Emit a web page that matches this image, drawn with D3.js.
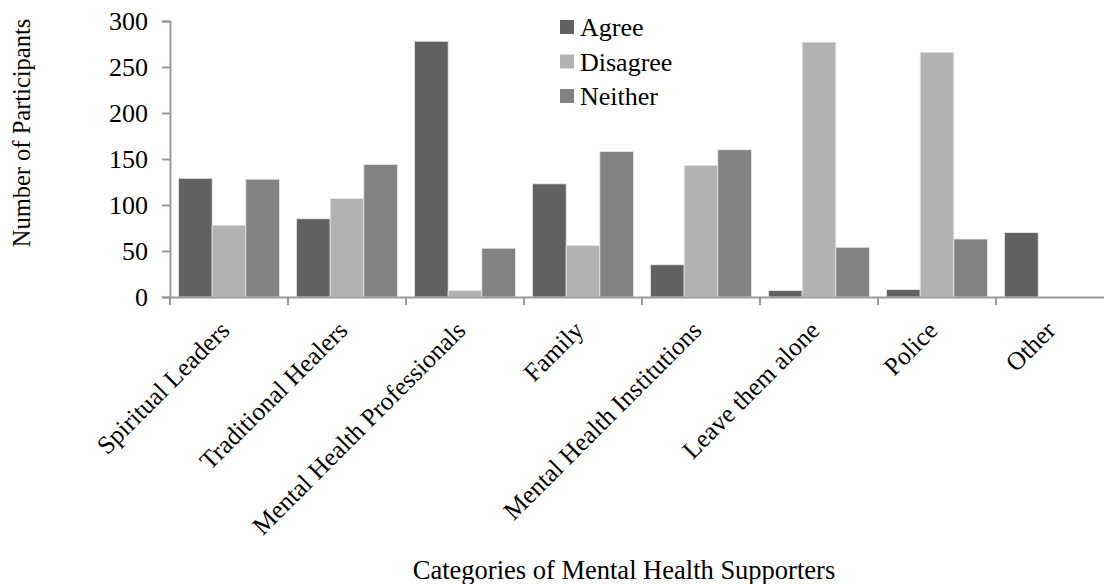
<!DOCTYPE html>
<html><head><meta charset="utf-8">
<script src="https://cdn.jsdelivr.net/npm/d3@7"></script>
<style>body{margin:0;background:#fff}svg{display:block}svg text{font-family:"Liberation Serif","Times New Roman",serif !important;fill:#000}</style>
</head><body><svg id="c" width="1104" height="584"></svg>
<script>
const categories = ["Spiritual Leaders","Traditional Healers","Mental Health Professionals","Family","Mental Health Institutions","Leave them alone","Police","Other"];
const seriesNames = ["Agree","Disagree","Neither"];
const agree    = [129, 85, 278, 123, 35, 7, 8, 70];
const disagree = [78, 107, 7, 56, 143, 277, 266, 0];
const neither  = [128, 144, 53, 158, 160, 54, 63, 0];
const yTicks = [0, 50, 100, 150, 200, 250, 300];
const colors = ["#616161", "#b2b2b2", "#828282"];
const seriesValues = [agree, disagree, neither];

(function(){
const svg = d3.select("#c");
const mLeft = 170, mBottom = 297, mTop = 21, mRight = 1114;
const x = d3.scaleBand().domain(categories).range([mLeft, mRight]).paddingInner(0).paddingOuter(0);
const xs = d3.scaleBand().domain(seriesNames).range([0, x.bandwidth()]).paddingInner(0).paddingOuter(0.2532);
const y = d3.scaleLinear().domain([0, 300]).range([mBottom, mTop]);
const axisColor = "#9a9a9a";

categories.forEach((c, i) => {
  seriesNames.forEach((s, j) => {
    const v = seriesValues[j][i];
    if (v <= 0) return;
    svg.append("rect")
      .attr("x", x(c) + xs(s))
      .attr("y", y(v))
      .attr("width", xs.bandwidth())
      .attr("height", y(0) - y(v))
      .attr("fill", colors[j])
      .attr("stroke", "#e6e6e6").attr("stroke-width", 0.8);
  });
});

const ya = svg.append("g").attr("transform", `translate(${mLeft},0)`)
  .call(d3.axisLeft(y).tickValues(yTicks).tickSize(8).tickPadding(14).tickFormat(d3.format("d")));
ya.attr("font-family", null).attr("font-size", null);
ya.select(".domain").attr("stroke", axisColor).attr("stroke-width", 2);
ya.selectAll(".tick line").attr("stroke", axisColor).attr("stroke-width", 2);
ya.selectAll(".tick text").style("font-size", "26px").attr("fill", "#000");

const xa = svg.append("g").attr("transform", `translate(0,${mBottom})`)
  .call(d3.axisBottom(x).tickSize(0).tickFormat(""));
xa.select(".domain").attr("stroke", axisColor).attr("stroke-width", 2);
const boundaries = categories.map(c => x(c));
svg.append("g").selectAll("line").data(boundaries).join("line")
  .attr("x1", d => d).attr("x2", d => d).attr("y1", mBottom).attr("y2", mBottom + 8)
  .attr("stroke", axisColor).attr("stroke-width", 2);

svg.append("g").selectAll("text").data(categories).join("text")
  .attr("transform", d => `translate(${x(d) + x.bandwidth()/2 + 2},${mBottom + 35}) rotate(-45)`)
  .attr("text-anchor", "end")
  .style("font-size", "25.5px")
  .text(d => d);

svg.append("text").attr("transform", `translate(30,133) rotate(-90)`)
  .attr("text-anchor", "middle").style("font-size", "24.5px").text("Number of Participants");
svg.append("text").attr("x", 624).attr("y", 579)
  .attr("text-anchor", "middle").style("font-size", "26.5px").text("Categories of Mental Health Supporters");

const lg = svg.append("g");
seriesNames.forEach((s, j) => {
  const cy = 27 + j * 34.5;
  lg.append("rect").attr("x", 560).attr("y", cy - 7).attr("width", 14).attr("height", 14).attr("fill", colors[j]);
  lg.append("text").attr("x", 580).attr("y", cy + 9).style("font-size", "26px").text(s);
});
})();
</script></body></html>
